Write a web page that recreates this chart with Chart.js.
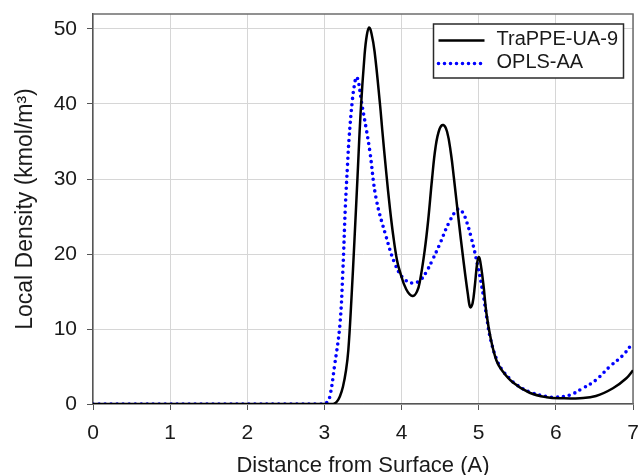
<!DOCTYPE html>
<html><head><meta charset="utf-8">
<script src="https://cdn.jsdelivr.net/npm/chart.js@4"></script>
<style>html,body{margin:0;padding:0;background:#fff}</style>
</head><body>
<canvas id="c" width="638" height="475" style="display:block;width:638px;height:475px"></canvas>
<script>
const seriesNames = ['TraPPE-UA-9', 'OPLS-AA'];
const trappeX = [0, 3.0, 3.12, 3.16, 3.2, 3.24, 3.28, 3.31, 3.35, 3.39, 3.43, 3.47, 3.52, 3.55, 3.58, 3.61, 3.65, 3.72, 3.75, 3.8, 3.85, 3.89, 3.94, 3.98, 4.06, 4.14, 4.2, 4.24, 4.3, 4.345, 4.395, 4.44, 4.49, 4.54, 4.59, 4.64, 4.68, 4.74, 4.8, 4.86, 4.89, 4.92, 4.95, 4.98, 5.0, 5.02, 5.06, 5.1, 5.16, 5.23, 5.3, 5.44, 5.66, 5.88, 6.09, 6.31, 6.52, 6.74, 6.91, 7.0];
const trappeY = [0, 0, 0.05, 0.3, 1.0, 2.3, 4.5, 7.2, 14.0, 22.0, 30.5, 39.0, 46.5, 49.2, 50.2, 49.4, 47.0, 40.0, 36.5, 31.0, 26.0, 22.6, 19.2, 17.6, 15.3, 14.4, 15.0, 16.5, 20.5, 24.5, 30.0, 34.2, 36.6, 37.2, 36.3, 33.4, 30.0, 24.5, 19.3, 14.6, 12.9, 13.4, 15.8, 18.8, 19.6, 19.0, 16.0, 12.1, 8.5, 5.8, 4.5, 2.9, 1.5, 0.9, 0.76, 0.78, 1.07, 2.1, 3.4, 4.5];
const oplsX = [0, 2.95, 3.03, 3.07, 3.13, 3.2, 3.24, 3.27, 3.3, 3.32, 3.36, 3.39, 3.415, 3.44, 3.48, 3.545, 3.59, 3.67, 3.8, 3.91, 4.02, 4.15, 4.25, 4.32, 4.4, 4.49, 4.62, 4.73, 4.78, 4.82, 4.9, 4.99, 5.06, 5.1, 5.15, 5.23, 5.3, 5.4, 5.5, 5.66, 5.88, 6.0, 6.18, 6.35, 6.52, 6.7, 6.87, 7.0];
const oplsY = [0, 0, 0.2, 1.0, 5.0, 10.5, 18.0, 26.0, 32.0, 35.5, 40.3, 42.6, 43.6, 43.0, 40.3, 36.5, 33.6, 27.4, 22.3, 18.8, 16.8, 16.1, 16.6, 17.6, 19.2, 21.2, 24.3, 26.0, 25.7, 25.0, 22.3, 18.3, 14.5, 11.8, 8.8, 6.0, 4.6, 3.4, 2.5, 1.6, 1.0, 0.9, 1.2, 2.1, 3.2, 5.0, 6.5, 8.2];
const xTicks = [0, 1, 2, 3, 4, 5, 6, 7];
const yTicks = [0, 10, 20, 30, 40, 50];
const xTitle = 'Distance from Surface (A)';
const yTitle = 'Local Density (kmol/m\u00B3)';

const FONT = '"Liberation Sans", Arial, sans-serif';
const toPts = (xs, ys) => xs.map((x, i) => ({x: x, y: ys[i]}));

const framePlugin = {
  id: 'frame',
  beforeDatasetsDraw(chart) {
    const {ctx, chartArea: a} = chart;
    ctx.save();
    ctx.strokeStyle = '#6e6e6e';
    ctx.lineWidth = 1.5;
    ctx.beginPath();
    ctx.moveTo(a.left, a.top); ctx.lineTo(a.right, a.top); ctx.lineTo(a.right, a.bottom);
    ctx.stroke();
    ctx.restore();
  }
};

const legendPlugin = {
  id: 'boxLegend',
  afterDatasetsDraw(chart) {
    const {ctx, chartArea: a} = chart;
    const bx = a.right - 199.5, by = a.top + 10, bw = 190, bh = 54;
    ctx.save();
    ctx.fillStyle = '#fff';
    ctx.fillRect(bx, by, bw, bh);
    ctx.strokeStyle = '#2a2a2a';
    ctx.lineWidth = 1.5;
    ctx.strokeRect(bx, by, bw, bh);
    chart.data.datasets.forEach((ds, i) => {
      const yy = by + 16.5 + i * 23;
      ctx.save();
      ctx.strokeStyle = ds.borderColor;
      ctx.lineWidth = ds.borderWidth;
      ctx.lineCap = ds.borderCapStyle || 'butt';
      ctx.setLineDash(ds.borderDash || []);
      ctx.beginPath();
      ctx.moveTo(bx + 5, yy); ctx.lineTo(bx + 51, yy);
      ctx.stroke();
      ctx.restore();
      ctx.fillStyle = '#1a1a1a';
      ctx.font = '20px ' + FONT;
      ctx.textBaseline = 'middle';
      ctx.textAlign = 'left';
      ctx.fillText(ds.label, bx + 63, yy - 1);
    });
    ctx.restore();
  }
};

new Chart(document.getElementById('c'), {
  type: 'line',
  data: {
    datasets: [
      {
        label: seriesNames[0],
        data: toPts(trappeX, trappeY),
        borderColor: '#000000',
        borderWidth: 2.5,
        pointRadius: 0,
        tension: 0.4,
        fill: false
      },
      {
        label: seriesNames[1],
        data: toPts(oplsX, oplsY),
        borderColor: '#0000ff',
        borderWidth: 3.6,
        borderDash: [0, 6],
        borderCapStyle: 'round',
        pointRadius: 0,
        tension: 0.4,
        fill: false
      }
    ]
  },
  options: {
    responsive: false,
    animation: false,
    layout: {padding: {top: 14, right: 5, left: 0, bottom: 0}},
    plugins: {legend: {display: false}, tooltip: {enabled: false}},
    scales: {
      x: {
        type: 'linear', min: 0, max: 7,
        afterBuildTicks: s => { s.ticks = xTicks.map(v => ({value: v})); },
        afterFit: s => { s.height = 71; s.paddingLeft = 0; s.paddingRight = 0; },
        ticks: {font: {family: FONT, size: 21}, color: '#1a1a1a', padding: 11, maxRotation: 0, autoSkip: false},
        grid: {color: '#d6d6d6', lineWidth: 1, tickColor: '#555', tickLength: 6, drawTicks: true},
        border: {color: '#555', width: 1.5},
        title: {display: true, text: xTitle, font: {family: FONT, size: 22}, color: '#1a1a1a', padding: {top: 0, bottom: -4}}
      },
      y: {
        type: 'linear', min: 0, max: 52,
        afterBuildTicks: s => { s.ticks = yTicks.map(v => ({value: v})); },
        afterFit: s => { s.width = 93; s.paddingTop = 0; s.paddingBottom = 0; },
        ticks: {font: {family: FONT, size: 21}, color: '#1a1a1a', padding: 10},
        grid: {color: '#d6d6d6', lineWidth: 1, tickColor: '#555', tickLength: 6, drawTicks: true},
        border: {color: '#555', width: 1.5},
        title: {display: true, text: yTitle, font: {family: FONT, size: 23}, color: '#1a1a1a', padding: {top: 12, bottom: 0}}
      }
    }
  },
  plugins: [framePlugin, legendPlugin]
});
</script>
</body></html>
